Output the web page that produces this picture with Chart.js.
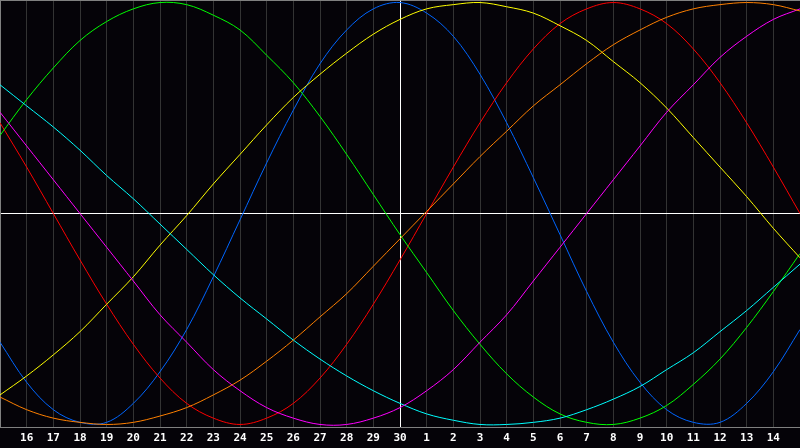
<!DOCTYPE html>
<html>
<head>
<meta charset="utf-8">
<script src="https://cdn.jsdelivr.net/npm/chart.js@4/dist/chart.umd.min.js"></script>
<style>
  html, body { margin: 0; padding: 0; background: #050308; }
  #wrap { width: 800px; height: 448px; }
</style>
</head>
<body>
<div id="wrap"><canvas id="bio" width="800" height="448"></canvas></div>
<script>
// day labels along the bottom (first and last column stay empty)
const dayLabels = ['', '16', '17', '18', '19', '20', '21', '22', '23', '24', '25', '26', '27', '28', '29', '30',
  '1', '2', '3', '4', '5', '6', '7', '8', '9', '10', '11', '12', '13', '14', ''];

// curve values, one per day column, in percent
const red = [43, 22, 0, -22, -43, -62, -78, -90, -97, -100, -97, -90, -78, -62, -43, -22,
  0, 22, 43, 62, 78, 90, 97, 100, 97, 90, 78, 62, 43, 22, 0];
const blue = [-61, -80, -93, -99, -99, -90, -75, -55, -30, -3, 24, 49, 71, 87, 97, 100,
  95, 84, 66, 43, 17, -10, -37, -61, -80, -93, -99, -99, -90, -75, -55];
const green = [37, 54, 69, 82, 91, 97, 100, 99, 94, 87, 75, 62, 46, 28, 9, -10,
  -28, -46, -62, -76, -87, -95, -99, -100, -97, -91, -81, -69, -54, -37, -19];
const cyan = [61, 51, 41, 30, 18, 7, -5, -17, -29, -40, -50, -60, -69, -77, -84, -90,
  -95, -98, -100, -100, -99, -97, -93, -88, -82, -74, -66, -56, -46, -35, -24];
const magenta = [48, 32, 16, 0, -16, -32, -48, -61, -74, -84, -92, -97, -100, -100, -97, -92,
  -84, -74, -61, -48, -32, -16, 0, 16, 32, 48, 61, 74, 84, 92, 97];
const orange = [-87, -93, -97, -99, -100, -99, -96, -92, -86, -79, -70, -60, -49, -38, -25, -12,
  1, 14, 27, 39, 51, 61, 71, 80, 87, 93, 97, 99, 100, 99, 96];
const yellow = [-86, -77, -67, -56, -43, -30, -15, -1, 14, 28, 42, 55, 66, 76, 85, 92,
  97, 99, 100, 98, 95, 89, 82, 72, 62, 50, 36, 22, 8, -7, -21];

const Y_LIM = 101.2;
const CENTER_DAY = 15;

function serie(data, cor) {
  return {
    data, borderColor: cor, borderWidth: 1, pointRadius: 0, pointHoverRadius: 0,
    tension: 0.35, capBezierPoints: false, fill: false
  };
}

new Chart(document.getElementById('bio'), {
  type: 'line',
  data: {
    labels: dayLabels,
    datasets: [
      serie(orange, '#ff8000'),
      serie(magenta, '#ff00ff'),
      serie(cyan, '#00ffff'),
      serie(yellow, '#ffff00'),
      serie(green, '#00ff00'),
      serie(red, '#ff0000'),
      serie(blue, '#0066ff')
    ]
  },
  options: {
    responsive: false,
    animation: false,
    layout: { autoPadding: false, padding: 0 },
    plugins: { legend: { display: false }, tooltip: { enabled: false } },
    scales: {
      x: {
        offset: false,
        // the tick padding must not push the plot in from the sides
        afterFit: axis => { axis.paddingLeft = 0; axis.paddingRight = 0; axis.height = 21; },
        grid: {
          drawTicks: false,
          color: c => c.index === CENTER_DAY ? '#ffffff' : (c.index === dayLabels.length - 1 ? '#808080' : '#333333'),
          lineWidth: 1
        },
        border: { display: true, color: '#808080', width: 1 },
        ticks: {
          autoSkip: false, maxRotation: 0, padding: 5, color: '#ffffff',
          font: { family: 'DejaVu Sans Mono', size: 11, weight: 'bold' }
        }
      },
      y: {
        min: -Y_LIM, max: Y_LIM,
        afterBuildTicks: axis => { axis.ticks = [{ value: -Y_LIM }, { value: 0 }, { value: Y_LIM }]; },
        afterFit: axis => { axis.width = 0; },
        grid: {
          drawTicks: false,
          color: c => c.tick.value === 0 ? '#ffffff' : (c.tick.value > 0 ? '#808080' : 'rgba(0,0,0,0)'),
          lineWidth: 1
        },
        border: { display: true, color: '#808080', width: 1 },
        ticks: { display: false }
      }
    }
  }
});
</script>
</body>
</html>
